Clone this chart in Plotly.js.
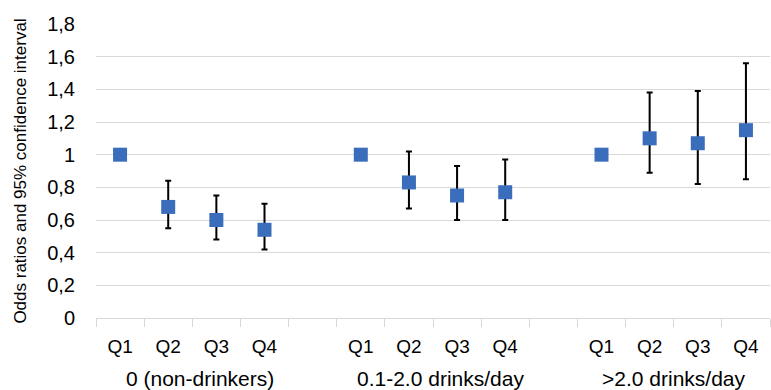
<!DOCTYPE html>
<html>
<head>
<meta charset="utf-8">
<script src="https://cdn.plot.ly/plotly-3.0.1.min.js"></script>
<style>html,body{margin:0;padding:0;background:#fff;}#chart{width:771px;height:390px;}</style>
</head>
<body>
<div id="chart"></div>
<script>
// Data
var groups = ["0 (non-drinkers)", "0.1-2.0 drinks/day", ">2.0 drinks/day"];
var quartiles = ["Q1", "Q2", "Q3", "Q4"];
var oddsNonDrinkers = [1.00, 0.68, 0.60, 0.54];
var lowerNonDrinkers = [1.00, 0.55, 0.48, 0.42];
var upperNonDrinkers = [1.00, 0.84, 0.75, 0.70];
var oddsModerate = [1.00, 0.83, 0.75, 0.77];
var lowerModerate = [1.00, 0.67, 0.60, 0.60];
var upperModerate = [1.00, 1.02, 0.93, 0.97];
var oddsHeavy = [1.00, 1.10, 1.07, 1.15];
var lowerHeavy = [1.00, 0.89, 0.82, 0.85];
var upperHeavy = [1.00, 1.38, 1.39, 1.56];

var odds = [oddsNonDrinkers, oddsModerate, oddsHeavy];
var lowers = [lowerNonDrinkers, lowerModerate, lowerHeavy];
var uppers = [upperNonDrinkers, upperModerate, upperHeavy];

// Build positions: 4 quartiles per group plus one empty slot between groups
var slot = quartiles.length + 1;
var xs = [], ys = [], ep = [], em = [], tickv = [], tickt = [];
var annotations = [];
var shifts = [8, 7, 0];
groups.forEach(function (g, gi) {
  quartiles.forEach(function (q, qi) {
    var x = gi * slot + qi;
    var v = odds[gi][qi];
    xs.push(x); ys.push(v);
    ep.push(uppers[gi][qi] - v);
    em.push(v - lowers[gi][qi]);
    tickv.push(x); tickt.push(q);
  });
  annotations.push({
    x: gi * slot + (quartiles.length - 1) / 2, xref: 'x',
    y: 0, yref: 'paper', yanchor: 'top', yshift: -47, xshift: shifts[gi],
    text: g, showarrow: false,
    font: {family: 'Liberation Sans, Arial, sans-serif', size: 21, color: '#000'}
  });
});
var nSlots = groups.length * slot - 1;
var boundaries = [];
for (var i = 0; i <= nSlots; i++) boundaries.push(i - 0.5);

var trace = {
  x: xs, y: ys, type: 'scatter', mode: 'markers',
  marker: {symbol: 'square', size: 14, color: '#3B6DBD'},
  error_y: {type: 'data', symmetric: false, array: ep, arrayminus: em,
            color: '#000', thickness: 2, width: 3},
  hoverinfo: 'none', showlegend: false
};

var layout = {
  width: 771, height: 390,
  margin: {l: 96, r: 1, t: 24, b: 72},
  paper_bgcolor: '#fff', plot_bgcolor: '#fff',
  separators: ', ',
  font: {family: 'Liberation Sans, Arial, sans-serif', color: '#000'},
  xaxis: {
    range: [-0.5, nSlots - 0.5],
    tickmode: 'array', tickvals: tickv, ticktext: tickt,
    ticks: 'outside', ticklen: 11, tickcolor: 'rgba(0,0,0,0)',
    tickfont: {size: 19, color: '#000'},
    showgrid: false, zeroline: false,
    showline: true, linecolor: '#d9d9d9', linewidth: 1,
    minor: {tickmode: 'array', tickvals: boundaries, ticks: 'outside', ticklen: 8,
            tickcolor: '#d9d9d9', tickwidth: 1, showgrid: false},
    fixedrange: true
  },
  yaxis: {
    range: [0, 1.8], dtick: 0.2, tick0: 0,
    showgrid: true, gridcolor: '#d9d9d9', gridwidth: 1,
    zeroline: false, showline: false,
    ticks: 'outside', ticklen: 16, tickcolor: 'rgba(0,0,0,0)',
    tickfont: {size: 20, color: '#000'},
    title: {text: 'Odds ratios and 95% confidence interval', font: {size: 17, color: '#000'}, standoff: 16},
    fixedrange: true
  },
  annotations: annotations
};

Plotly.newPlot('chart', [trace], layout, {displayModeBar: false, staticPlot: true});
</script>
</body>
</html>
